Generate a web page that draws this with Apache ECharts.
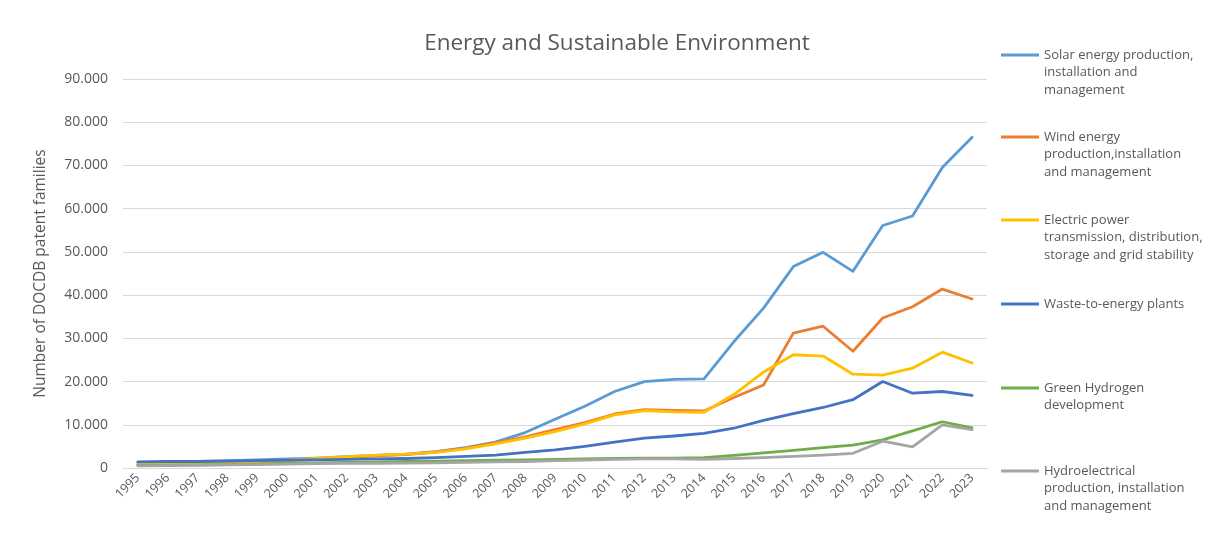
<!DOCTYPE html>
<html>
<head>
<meta charset="utf-8">
<title>Energy and Sustainable Environment</title>
<script src="https://cdn.jsdelivr.net/npm/echarts@6/dist/echarts.min.js"></script>
<style>
  html, body { margin: 0; padding: 0; background: #ffffff; }
  #chart { width: 1212px; height: 547px; }
</style>
</head>
<body>
<div id="chart"></div>
<script>
// Patent families per technology field, 1995–2023
const years = ['1995','1996','1997','1998','1999','2000','2001','2002','2003','2004',
  '2005','2006','2007','2008','2009','2010','2011','2012','2013','2014',
  '2015','2016','2017','2018','2019','2020','2021','2022','2023'];

const solar = [1300, 1400, 1500, 1700, 1900, 2100, 2300, 2600, 2900, 3200,
  3800, 4700, 6000, 8200, 11300, 14300, 17700, 20000, 20500, 20600,
  29200, 37000, 46600, 49900, 45500, 56100, 58300, 69500, 76500];

const wind = [800, 900, 1000, 1200, 1400, 1700, 2000, 2400, 2800, 3100,
  3700, 4600, 5800, 7200, 8900, 10500, 12500, 13500, 13300, 13200,
  16300, 19200, 31200, 32800, 27000, 34700, 37300, 41400, 39100];

const grid = [900, 1000, 1100, 1300, 1500, 1800, 2200, 2600, 3000, 3200,
  3600, 4400, 5600, 6900, 8400, 10200, 12300, 13300, 13000, 12900,
  17000, 22200, 26200, 25900, 21700, 21500, 23100, 26800, 24300];

const waste = [1400, 1500, 1500, 1600, 1700, 1800, 1900, 2000, 2100, 2200,
  2400, 2700, 3000, 3600, 4200, 5000, 6000, 6900, 7400, 8000,
  9200, 11000, 12600, 14000, 15800, 20000, 17300, 17700, 16800];

const hydrogen = [600, 650, 700, 800, 900, 1100, 1200, 1300, 1400, 1500,
  1600, 1700, 1800, 1900, 2000, 2100, 2200, 2300, 2300, 2400,
  2900, 3500, 4100, 4700, 5300, 6500, 8600, 10700, 9300];

const hydro = [500, 550, 600, 700, 800, 900, 1000, 1050, 1100, 1150,
  1200, 1300, 1400, 1500, 1700, 1800, 2000, 2100, 2100, 2000,
  2200, 2400, 2700, 3000, 3400, 6200, 4900, 10000, 8900];

const yTicks = { min: 0, max: 90000, interval: 10000 };

const seriesDefs = [
  { name: 'Solar energy production,\ninstallation and\nmanagement', data: solar, color: '#5B9BD5', lines: 3, iconY: 55 },
  { name: 'Wind energy\nproduction,installation\nand management', data: wind, color: '#ED7D31', lines: 3, iconY: 137 },
  { name: 'Electric power\ntransmission, distribution,\nstorage and grid stability', data: grid, color: '#FFC000', lines: 3, iconY: 220 },
  { name: 'Waste-to-energy plants', data: waste, color: '#4472C4', lines: 1, iconY: 304 },
  { name: 'Green Hydrogen\ndevelopment', data: hydrogen, color: '#70AD47', lines: 2, iconY: 388 },
  { name: 'Hydroelectrical\nproduction, installation\nand management', data: hydro, color: '#A5A5A5', lines: 3, iconY: 471 }
];

const textColor = '#595959';
const fontFamily = '"Open Sans", "Liberation Sans", sans-serif';
const legendLineHeight = 17.5;

function thousands(v) {
  return String(v).replace(/\B(?=(\d{3})+(?!\d))/g, '.');
}

// One legend block per series so the icon sits beside the first text line
const legends = seriesDefs.map(function (s) {
  const pad = '\n'.repeat(s.lines - 1);
  const totalLines = 2 * s.lines - 1;
  return {
    orient: 'vertical',
    left: 1001,
    top: s.iconY - (totalLines * legendLineHeight) / 2,
    padding: 0,
    icon: 'rect',
    itemWidth: 38,
    itemHeight: 3,
    data: [s.name],
    selectedMode: false,
    formatter: function (name) { return pad + name; },
    textStyle: {
      color: textColor,
      fontFamily: fontFamily,
      fontSize: 13,
      lineHeight: legendLineHeight
    }
  };
});

const chart = echarts.init(document.getElementById('chart'), null, { renderer: 'canvas' });

chart.setOption({
  backgroundColor: '#ffffff',
  animation: false,
  title: {
    text: 'Energy and Sustainable Environment',
    left: 612,
    textAlign: 'center',
    top: 27,
    textStyle: {
      color: textColor,
      fontFamily: fontFamily,
      fontSize: 22.5,
      fontWeight: 'normal'
    }
  },
  legend: legends,
  grid: { left: 123, right: 225, top: 79, bottom: 79, containLabel: false },
  xAxis: {
    type: 'category',
    data: years,
    boundaryGap: true,
    axisLine: { lineStyle: { color: '#D9D9D9', width: 1 } },
    axisTick: { show: false },
    axisLabel: {
      interval: 0,
      rotate: 45,
      margin: 8,
      color: textColor,
      fontFamily: fontFamily,
      fontSize: 12.5
    }
  },
  yAxis: {
    type: 'value',
    min: yTicks.min,
    max: yTicks.max,
    interval: yTicks.interval,
    name: 'Number of DOCDB patent families',
    nameLocation: 'middle',
    nameGap: 74,
    nameRotate: 90,
    nameTextStyle: {
      color: textColor,
      fontFamily: fontFamily,
      fontSize: 15.5
    },
    axisLine: { show: false },
    axisTick: { show: false },
    splitLine: { lineStyle: { color: '#D9D9D9', width: 1 } },
    axisLabel: {
      margin: 15,
      color: textColor,
      fontFamily: fontFamily,
      fontSize: 14,
      formatter: thousands
    }
  },
  series: seriesDefs.map(function (s) {
    return {
      name: s.name,
      type: 'line',
      data: s.data,
      symbol: 'none',
      smooth: false,
      color: s.color,
      lineStyle: { color: s.color, width: 2.8, cap: 'round', join: 'round' }
    };
  })
});
</script>
</body>
</html>
